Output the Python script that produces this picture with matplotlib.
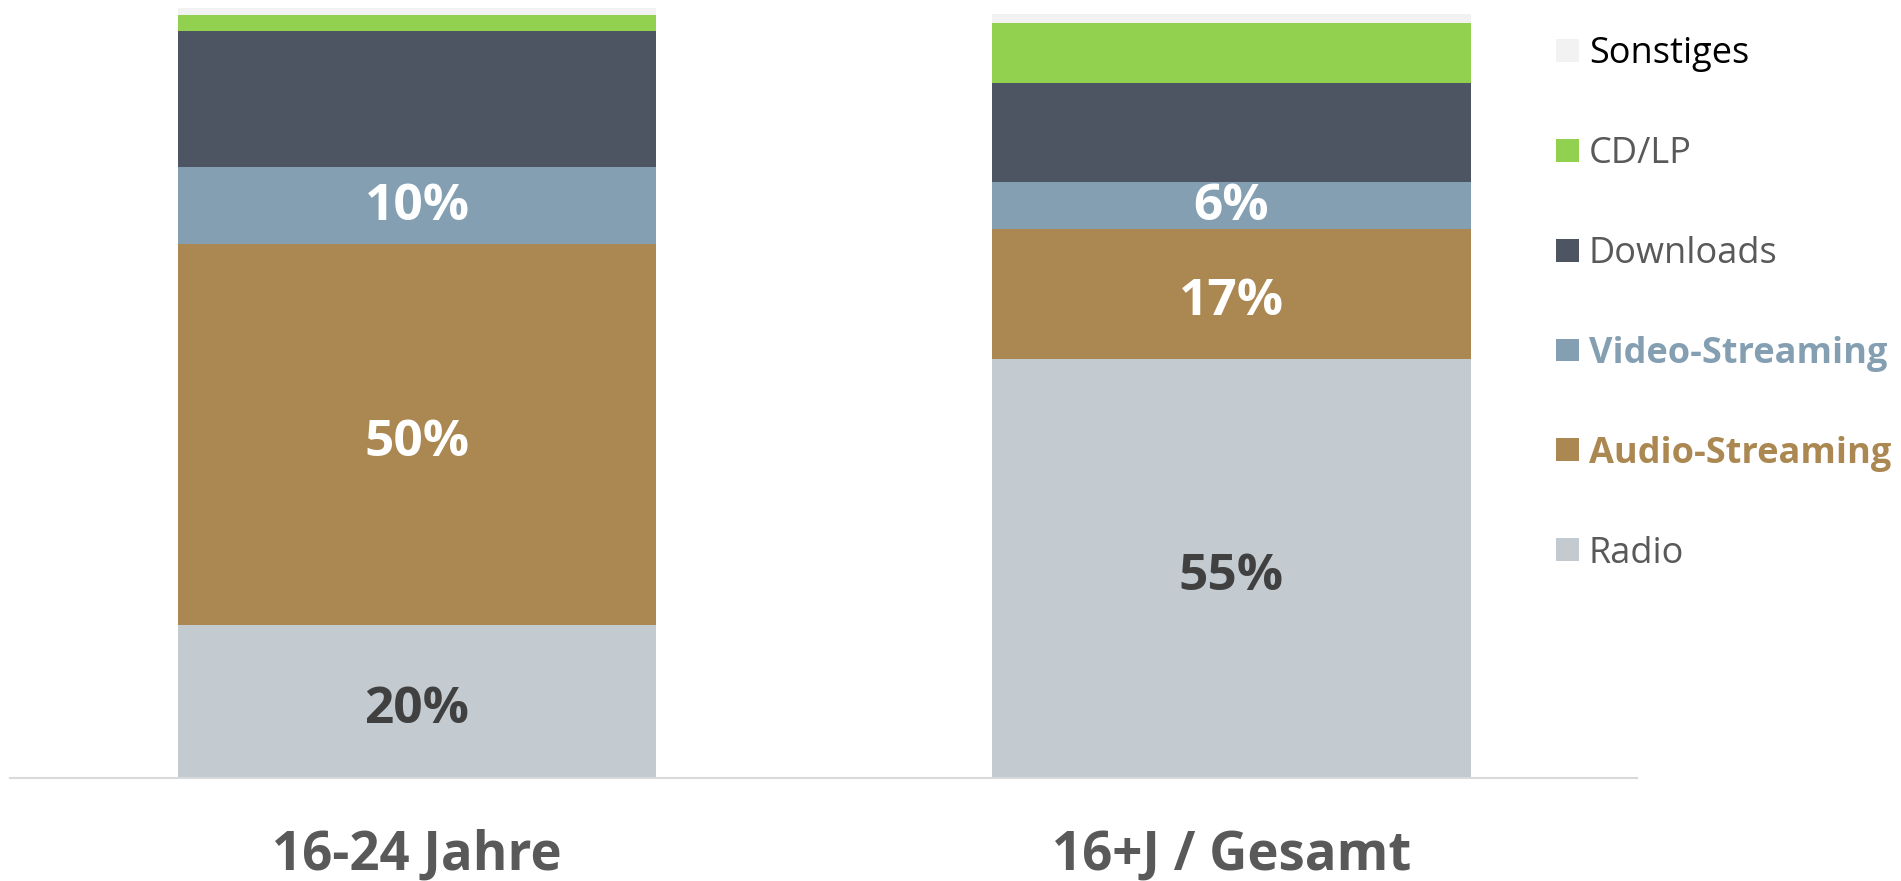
import matplotlib.pyplot as plt

# Data (Anteil in %)
groups = ["16-24 Jahre", "16+J / Gesamt"]
radio = [20.0, 54.9]
audio = [50.0, 17.0]
video = [10.0, 6.1]
downloads = [17.9, 13.0]
cd_lp = [2.1, 7.9]
sonstiges = [0.9, 1.2]

series_names = ["Radio", "Audio-Streaming", "Video-Streaming", "Downloads", "CD/LP", "Sonstiges"]
series_values = [radio, audio, video, downloads, cd_lp, sonstiges]
colors = ["#c3cbd1", "#ab8751", "#849fb2", "#4e5562", "#92d050", "#f2f2f2"]
# label colour and small vertical nudge (points) for labelled series
labelled = {"Radio": ("#404040", -6), "Audio-Streaming": ("white", -6), "Video-Streaming": ("white", -1)}
legend_colors = {"Sonstiges": "black", "CD/LP": "#595959", "Downloads": "#595959",
                 "Video-Streaming": "#849fb2", "Audio-Streaming": "#ab8751", "Radio": "#595959"}

plt.rcParams["font.family"] = ["Open Sans", "DejaVu Sans"]


def main():
    fig = plt.figure(figsize=(19.01, 8.81), dpi=100)
    ax = fig.add_axes([10 / 1901, 1 - 778 / 881, 1627 / 1901, 778 / 881])

    x = range(len(groups))
    bottom = [0.0] * len(groups)
    handles = []
    for name, vals, col in zip(series_names, series_values, colors):
        bars = ax.bar(x, vals, width=0.587, bottom=bottom, color=col, label=name, linewidth=0)
        handles.append(bars)
        if name in labelled:
            txt_col, nudge = labelled[name]
            ax.bar_label(bars, labels=[f"{v:.0f}%" for v in vals], label_type="center",
                         padding=nudge, color=txt_col, fontsize=37, fontweight="bold")
        bottom = [b + v for b, v in zip(bottom, vals)]

    ax.set_xlim(-0.4997, 1.4979)
    ax.set_ylim(0, 101.9)
    for side in ["top", "right", "left"]:
        ax.spines[side].set_visible(False)
    ax.spines["bottom"].set_color("#d9d9d9")
    ax.spines["bottom"].set_linewidth(1.5)
    ax.set_yticks([])
    ax.set_xticks(list(x))
    ax.set_xticklabels(groups, fontsize=38, fontweight="bold", color="#595959")
    for lbl in ax.get_xticklabels():
        lbl.set_verticalalignment("baseline")
    ax.tick_params(axis="x", length=0, pad=66)

    leg = fig.legend(handles[::-1], series_names[::-1], loc="upper left",
                     bbox_to_anchor=(1556 / 1901, 1 - 36 / 881), frameon=False,
                     fontsize=26, handlelength=0.64, handleheight=0.6,
                     handletextpad=0.27, labelspacing=1.77, borderpad=0, borderaxespad=0)
    for txt in leg.get_texts():
        name = txt.get_text()
        txt.set_color(legend_colors[name])
        if name in ("Video-Streaming", "Audio-Streaming"):
            txt.set_fontweight("bold")

    fig.savefig("out.png", dpi=100)


if __name__ == "__main__":
    main()
